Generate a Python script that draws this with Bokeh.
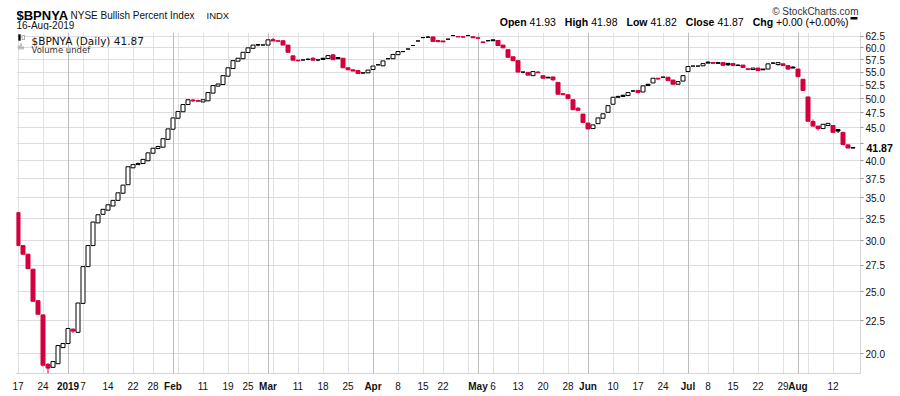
from bokeh.plotting import figure
from bokeh.layouts import column
from bokeh.models import (Range1d, FixedTicker, PrintfTickFormatter, Label, LinearAxis,
                          LogAxis, ColumnDataSource, Grid, BoxAnnotation)
from bokeh.embed import file_html
from bokeh.resources import INLINE

# ---------------- data (trading-day index 0 = 17-Dec-2018 ... 167 = 16-Aug-2019) -------------
opens = [33.2, 29.5, 28.6, 27.1, 24.2, 23.0, 19.25, 19.05, 19.3, 20.45,
         20.75, 21.85, 21.6, 23.97, 27.35, 29.5, 32.0, 33.0, 33.5, 34.0,
         34.7, 35.6, 36.7, 39.0, 39.45, 39.6, 40.0, 41.1, 41.8, 42.0,
         43.2, 44.8, 46.6, 47.7, 48.95, 49.75, 49.65, 49.4, 49.6, 51.0,
         52.3, 52.6, 54.2, 55.7, 57.2, 57.7, 59.0, 59.9, 60.7, 60.62,
         60.6, 61.8, 61.55, 61.55, 60.6, 58.3, 57.4, 57.45, 57.6, 57.8,
         57.45, 57.8, 57.75, 58.5, 57.95, 57.8, 55.85, 55.45, 55.3, 54.85,
         54.85, 55.5, 56.45, 56.25, 57.7, 57.7, 58.55, 59.2, 59.75, 60.5,
         61.5, 62.25, 62.35, 62.4, 61.6, 61.5, 61.9, 62.7, 62.5, 62.45,
         62.7, 62.45, 62.2, 61.3, 61.55, 61.75, 61.6, 60.6, 59.6, 58.1,
         57.3, 55.0, 54.95, 54.3, 55.0, 54.3, 54.0, 54.05, 53.0, 50.9,
         50.7, 49.8, 48.3, 47.3, 45.8, 44.9, 45.7, 46.6, 47.6, 49.0,
         50.4, 50.6, 50.55, 51.4, 51.5, 51.2, 52.65, 52.9, 53.8, 54.0,
         54.0, 53.45, 52.65, 53.25, 55.1, 56.2, 56.2, 56.25, 57.0, 56.9,
         56.9, 56.9, 56.75, 56.7, 56.4, 56.4, 55.65, 55.5, 55.8, 55.6,
         55.6, 56.8, 56.5, 56.65, 56.3, 56.0, 55.6, 53.6, 50.3, 46.05,
         45.3, 44.9, 45.4, 45.4, 44.75, 44.3, 42.35, 41.93]
highs = [33.2, 29.5, 28.6, 27.1, 24.2, 23.0, 19.35, 19.45, 20.6, 20.75,
         21.95, 21.9, 24.0, 27.35, 29.5, 32.1, 32.95, 33.6, 34.15, 34.7,
         35.65, 36.65, 39.15, 39.45, 39.75, 40.2, 41.15, 41.85, 42.2, 43.3,
         44.85, 46.65, 47.75, 48.95, 49.8, 49.95, 49.8, 49.8, 51.1, 52.4,
         52.7, 54.3, 55.85, 57.3, 57.8, 59.05, 60.0, 60.6, 60.85, 60.62,
         61.75, 62.15, 61.55, 61.55, 60.6, 58.3, 57.4, 57.45, 57.8, 58.0,
         57.45, 57.8, 58.35, 58.7, 57.95, 57.8, 55.85, 55.45, 55.3, 54.85,
         55.4, 56.2, 56.6, 57.25, 57.7, 58.6, 59.2, 59.2, 59.75, 60.5,
         61.5, 62.25, 62.6, 62.5, 61.6, 61.5, 61.9, 62.7, 62.5, 62.45,
         62.7, 62.45, 62.2, 61.3, 61.55, 61.75, 61.6, 60.6, 59.6, 58.1,
         57.3, 55.0, 54.95, 55.1, 55.2, 54.3, 54.0, 54.05, 53.0, 50.9,
         50.7, 49.8, 48.5, 47.3, 45.8, 45.5, 46.65, 47.35, 48.75, 50.25,
         50.5, 50.7, 51.1, 51.4, 51.5, 52.35, 52.65, 53.8, 53.8, 54.0,
         54.0, 53.45, 53.15, 54.3, 56.1, 56.2, 56.2, 56.7, 57.15, 56.9,
         56.9, 56.9, 56.75, 56.7, 56.55, 56.4, 55.65, 55.8, 55.8, 55.6,
         56.65, 56.95, 56.9, 56.65, 56.3, 56.15, 55.6, 53.6, 50.3, 46.4,
         45.3, 45.6, 45.75, 45.4, 44.75, 44.3, 42.35, 41.98]
lows = [29.5, 28.6, 27.15, 24.15, 23.05, 19.1, 18.6, 19.05, 19.3, 20.45,
        20.75, 21.55, 21.6, 23.97, 27.35, 29.5, 32.0, 33.0, 33.5, 34.0,
        34.7, 35.6, 36.7, 39.0, 39.45, 39.6, 40.0, 41.1, 41.8, 42.0,
        43.2, 44.8, 46.6, 47.7, 48.95, 49.4, 49.4, 49.4, 49.6, 51.0,
        52.3, 52.6, 54.2, 55.7, 57.2, 57.7, 59.0, 59.9, 60.35, 60.62,
        60.6, 61.5, 61.45, 60.6, 59.05, 57.4, 57.1, 57.45, 57.4, 57.4,
        57.2, 57.55, 57.75, 57.5, 57.7, 55.85, 55.45, 55.2, 54.7, 54.8,
        54.85, 55.5, 56.45, 56.25, 57.7, 57.7, 58.55, 59.2, 59.75, 60.5,
        61.5, 62.25, 62.35, 61.4, 61.3, 61.3, 61.9, 62.7, 62.4, 62.35,
        62.7, 62.2, 62.1, 61.15, 61.55, 61.55, 60.5, 60.0, 58.0, 57.3,
        55.0, 54.75, 54.4, 54.3, 54.85, 53.8, 53.85, 53.3, 50.8, 50.7,
        50.0, 48.05, 47.95, 45.9, 44.85, 44.9, 45.7, 46.6, 47.6, 49.0,
        50.25, 50.4, 50.55, 51.2, 51.1, 51.2, 52.4, 52.9, 53.5, 54.0,
        53.35, 52.65, 52.65, 53.25, 55.1, 56.2, 56.2, 56.25, 56.8, 56.75,
        56.75, 56.35, 56.25, 56.3, 56.3, 55.9, 55.5, 55.5, 55.3, 55.45,
        55.6, 56.6, 56.3, 56.3, 55.45, 55.8, 54.1, 51.5, 46.1, 45.3,
        44.6, 44.9, 45.4, 44.3, 44.2, 42.4, 41.87, 41.82]
closes = [29.5, 28.6, 27.15, 24.15, 23.05, 19.2, 19.0, 19.45, 20.6, 20.75,
          21.9, 21.7, 24.0, 27.35, 29.5, 32.1, 32.95, 33.6, 34.15, 34.7,
          35.65, 36.65, 39.15, 39.45, 39.6, 40.2, 41.15, 41.85, 42.1, 43.3,
          44.85, 46.65, 47.75, 48.95, 49.8, 49.6, 49.55, 49.8, 51.1, 52.4,
          52.7, 54.3, 55.85, 57.3, 57.8, 59.05, 60.0, 60.6, 60.6, 60.62,
          61.75, 61.5, 61.45, 60.6, 59.05, 57.4, 57.3, 57.45, 57.55, 57.4,
          57.45, 57.55, 58.35, 57.5, 57.7, 55.85, 55.45, 55.2, 54.7, 54.8,
          55.4, 56.2, 56.45, 57.25, 57.7, 58.6, 59.2, 59.2, 59.75, 60.5,
          61.5, 62.25, 62.35, 61.4, 61.35, 61.3, 61.9, 62.7, 62.4, 62.35,
          62.7, 62.2, 62.1, 61.15, 61.55, 61.55, 60.5, 60.0, 58.0, 57.3,
          55.0, 55.0, 54.4, 55.1, 54.85, 53.8, 53.85, 53.5, 50.8, 50.7,
          50.0, 48.05, 47.95, 45.9, 44.85, 45.5, 46.65, 47.35, 48.75, 50.25,
          50.25, 50.4, 51.1, 51.4, 51.1, 52.35, 52.4, 53.8, 53.65, 54.0,
          53.35, 52.65, 53.15, 54.3, 56.1, 56.2, 56.2, 56.7, 56.8, 56.75,
          56.75, 56.35, 56.45, 56.3, 56.3, 55.9, 55.5, 55.8, 55.3, 55.45,
          56.65, 56.8, 56.9, 56.3, 55.6, 55.8, 54.1, 51.5, 46.1, 45.3,
          44.9, 45.6, 45.75, 44.3, 44.5, 42.4, 41.87, 41.87]

# x-axis ticks (trading-day index) and labels
day_tick_idx = [0, 5, 13, 18, 23, 27, 37, 42, 46, 56, 61, 66, 76, 81, 85, 95, 100, 105,
                110, 119, 124, 129, 138, 143, 148, 153, 163]
day_tick_txt = ["17", "24", "7", "14", "22", "28", "11", "19", "25", "11", "18", "25",
                "8", "15", "22", "6", "13", "20", "28", "10", "17", "24", "8", "15",
                "22", "29", "12"]
month_idx = [10, 31, 50, 71, 92, 114, 134, 156]
month_txt = ["2019", "Feb", "Mar", "Apr", "May", "Jun", "Jul", "Aug"]
week_grid_idx = [0, 5, 13, 18, 23, 27, 32, 37, 42, 46, 51, 56, 61, 66, 76, 81, 85, 90,
                 95, 100, 105, 110, 119, 124, 129, 138, 143, 148, 153, 158, 163]
y_ticks = [20.0, 22.5, 25.0, 27.5, 30.0, 32.5, 35.0, 37.5, 40.0, 42.5, 45.0, 47.5,
           50.0, 52.5, 55.0, 57.5, 60.0, 62.5]
last_close = closes[-1]

RED = "#d2003c"
FONT = "Liberation Sans"

# ---------------- derived columns ----------------
n = len(closes)
idx = list(range(n))
tops, bots, fills, lines = [], [], [], []
for i in range(n):
    o, c = opens[i], closes[i]
    prev = closes[i - 1] if i > 0 else opens[i]
    col = "black" if c >= prev else RED
    tops.append(max(o, c))
    bots.append(min(o, c))
    lines.append(col)
    fills.append("white" if c > o else col)

src = ColumnDataSource(dict(x=idx, top=tops, bot=bots, high=highs, low=lows,
                            fill=fills, line=lines))

# =============== header strip (900 x 30), frame aligned with the chart frame ===============
HDR_H = 30
hdr = figure(width=900, height=HDR_H, output_backend="svg", toolbar_location=None,
             x_range=Range1d(16, 860), y_range=Range1d(HDR_H, 0),
             x_axis_location=None, y_axis_location=None,
             min_border_left=16, min_border_right=40, min_border_top=0, min_border_bottom=0)
hdr.grid.visible = False
hdr.outline_line_color = None
hdr.background_fill_color = "white"
hdr.border_fill_color = "white"

def hlab(txt, cx, cy, size, bold=False, align="left", color="#111111"):
    hdr.add_layout(Label(x=cx, y=cy, text=txt, text_font=FONT, text_font_size=size,
                         text_font_style="bold" if bold else "normal",
                         text_align=align, text_baseline="alphabetic", text_color=color))

hlab("$BPNYA", 16, 14.5, "13px", bold=True, color="black")
hlab("NYSE Bullish Percent Index", 70, 14.5, "10px")
hlab("INDX", 206, 14.5, "9.5px")
hlab("16-Aug-2019", 16, 25, "10px")
hlab("\u00a9 StockCharts.com", 858, 10.5, "10px", align="right", color="#333333")
ohlc = [("Open", 526.1, True), ("41.93", 555.4, False), ("High", 587.7, True),
        ("41.98", 617.0, False), ("Low", 647.0, True), ("41.82", 676.3, False),
        ("Close", 713.9, True), ("41.87", 743.2, False), ("Chg", 772.6, True),
        ("+0.00 (+0.00%)", 848.0, False)]
for t, rx, b in ohlc:
    hlab(t, rx, 21.5, "10.5px", bold=b, align="right", color="black")
hdr.add_layout(BoxAnnotation(left=850, right=857, top=16.5, bottom=19,
                             fill_color="black", fill_alpha=1, line_color=None))

# =============== main chart (frame x 16..860, canvas y 32..373) ===============
p = figure(width=900, height=396 - HDR_H, output_backend="svg", toolbar_location=None,
           x_range=Range1d(-0.3, 168.5), y_range=Range1d(18.634, 63.40),
           y_axis_type="log", y_axis_location="right",
           min_border_left=16, min_border_right=40, min_border_top=32 - HDR_H,
           min_border_bottom=23)
p.outline_line_color = None
p.background_fill_color = "white"
p.border_fill_color = "white"

p.ygrid.ticker = FixedTicker(ticks=y_ticks)
p.ygrid.grid_line_color = "#dddddd"
p.xgrid.ticker = FixedTicker(ticks=week_grid_idx)
p.xgrid.grid_line_color = "#e2e2e2"
p.add_layout(Grid(dimension=0, ticker=FixedTicker(ticks=month_idx),
                  grid_line_color="#bdbdbd"))

# right price axis
ya = p.yaxis[0]
ya.ticker = FixedTicker(ticks=y_ticks)
ya.formatter = PrintfTickFormatter(format="%.1f")
ya.major_label_overrides = {42.5: ""}
ya.major_label_text_font = FONT
ya.major_label_text_font_size = "10px"
ya.major_label_text_color = "#111111"
ya.major_tick_in = 0
ya.major_tick_out = 3
ya.major_tick_line_color = "#999999"
ya.minor_tick_line_color = None
ya.axis_line_color = "#aaaaaa"
ya.axis_line_dash = "1 1"
ya.major_label_standoff = 2

# last-close marker, drawn over the price axis labels
yl = LogAxis(ticker=FixedTicker(ticks=[last_close]),
             major_label_overrides={last_close: "%.2f" % last_close},
             major_label_text_font=FONT, major_label_text_font_size="10.5px",
             major_label_text_font_style="bold", major_label_text_color="black",
             major_label_standoff=-21, major_tick_in=0, major_tick_out=0,
             major_tick_line_color=None, minor_tick_line_color=None, axis_line_color=None)
p.add_layout(yl, "right")

# date axis: day numbers
xa = p.xaxis[0]
xa.ticker = FixedTicker(ticks=day_tick_idx)
xa.major_label_overrides = {k: t for k, t in zip(day_tick_idx, day_tick_txt)}
xa.major_label_text_font = FONT
xa.major_label_text_font_size = "10px"
xa.major_label_text_color = "#111111"
xa.major_tick_in = 0
xa.major_tick_out = 0
xa.major_tick_line_color = None
xa.minor_tick_line_color = None
xa.axis_line_color = "#aaaaaa"
xa.axis_line_dash = "1 1"
xa.major_label_standoff = 8

# date axis: bold month names on the same row
xm = LinearAxis(ticker=FixedTicker(ticks=month_idx),
                major_label_overrides={k: t for k, t in zip(month_idx, month_txt)},
                major_label_text_font=FONT, major_label_text_font_size="10px",
                major_label_text_font_style="bold", major_label_text_color="#111111",
                major_label_standoff=-12, major_tick_in=0, major_tick_out=0,
                major_tick_line_color=None, minor_tick_line_color=None, axis_line_color=None)
p.add_layout(xm, "below")

p.segment(x0="x", y0="low", x1="x", y1="high", line_color="line", line_width=1, source=src)
p.vbar(x="x", width=0.8, top="top", bottom="bot", fill_color="fill", line_color="line",
       line_width=1, source=src)

def lab(txt, cx, cy, size, font, color):
    p.add_layout(Label(x=cx - 16, y=373 - cy, x_units="screen", y_units="screen", text=txt,
                       text_font=font, text_font_size=size, text_align="left",
                       text_baseline="alphabetic", text_color=color))

lab("$BPNYA (Daily) 41.87", 31, 40, "10.5px", "DejaVu Sans", "#111111")
lab("Volume undef", 31, 49, "8.5px", "DejaVu Sans", "#333333")

def box(l, r, t, b, fill, line):
    p.add_layout(BoxAnnotation(left=l - 16, right=r - 16, top=373 - t, bottom=373 - b,
                               left_units="screen", right_units="screen", top_units="screen",
                               bottom_units="screen", fill_color=fill, fill_alpha=1,
                               line_color=line, line_width=1))

box(18, 20, 34, 40, "black", "black")
box(21.5, 24, 35, 39, "white", "black")
box(18, 19, 45, 49, "#888888", None)
box(20, 21, 43, 49, "#888888", None)
box(22, 23, 46, 49, "#888888", None)

layout = column(hdr, p, spacing=0)
open("out.html", "w").write(file_html(layout, INLINE))
